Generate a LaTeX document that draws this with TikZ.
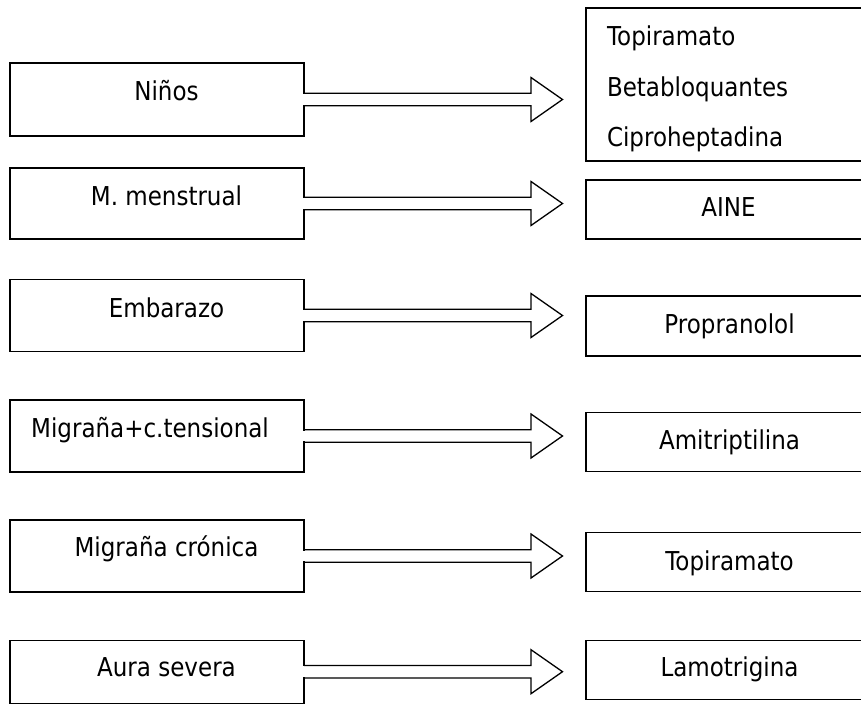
\documentclass[tikz,border=0pt]{standalone}
\usepackage{fontspec}
\setmainfont{DejaVu Sans}[FakeStretch=0.885]
\usetikzlibrary{calc}
\newcommand\myblockarrow[2]{%
  \fill[white] let \p1=(#1.east) in (\x1-1.2pt,\y1+5.4pt) rectangle (\x1+1.2pt,\y1-5.4pt);
  \draw[line join=miter] let \p1=(#1.east), \p2=(#2.west) in
    (\x1,\y1+6.3pt) -- (\x2-55pt,\y1+6.3pt) -- (\x2-55pt,\y1+22pt) -- (\x2-23.5pt,\y1)
    -- (\x2-55pt,\y1-22pt) -- (\x2-55pt,\y1-6.3pt) -- (\x1,\y1-6.3pt);
}
\begin{document}
\begin{tikzpicture}[x=1pt,y=-1pt, line width=1.3pt,
  lbox/.style={draw, minimum width=294pt, inner sep=0pt, outer sep=0pt},
  rbox/.style={draw, minimum width=287pt, inner sep=0pt, outer sep=0pt},
  txt/.style={anchor=base, inner sep=0pt, outer sep=0pt, font=\fontsize{26}{30}\selectfont},
  ltxt/.style={txt, anchor=base west}]
\useasboundingbox (0,0) rectangle (861,706);
\clip (0,0) rectangle (861,706);
% left boxes
\node[lbox, minimum height=73pt] (L1) at (157,99.5) {};
\node[lbox, minimum height=71pt] (L2) at (157,203.5) {};
\node[lbox, minimum height=72pt] (L3) at (157,315.5) {};
\node[lbox, minimum height=72pt] (L4) at (157,436) {};
\node[lbox, minimum height=72pt] (L5) at (157,556) {};
\node[lbox, minimum height=63pt] (L6) at (157,671.7) {};
% right boxes
\node[rbox, minimum height=153pt] (R1) at (729.5,84.5) {};
\node[rbox, minimum height=59pt] (R2) at (729.5,209.5) {};
\node[rbox, minimum height=60pt] (R3) at (729.5,326) {};
\node[rbox, minimum height=59pt] (R4) at (729.5,442.2) {};
\node[rbox, minimum height=58.6pt] (R5) at (729.5,562) {};
\node[rbox, minimum height=59pt] (R6) at (729.5,670.3) {};
% arrows
\myblockarrow{L1}{R1}
\myblockarrow{L2}{R2}
\myblockarrow{L3}{R3}
\myblockarrow{L4}{R4}
\myblockarrow{L5}{R5}
\myblockarrow{L6}{R6}
% left texts
\node[txt] (t1) at (166.5,100.7) {Niños};
\node[txt] (t2) at (166.5,205) {M. menstrual};
\node[txt] (t3) at (166.5,317) {Embarazo};
\node[txt] (t4) at (150,437) {Migraña+c.tensional};
\node[txt] (t5) at (166.5,556.7) {Migraña crónica};
\node[txt] (t6) at (166.5,676.7) {Aura severa};
% right texts
\node[ltxt] (r1a) at (607,45.7) {Topiramato};
\node[ltxt] (r1b) at (607,96.7) {Betabloquantes};
\node[ltxt] (r1c) at (607,146.7) {Ciproheptadina};
\node[txt] (r2) at (728.5,216.7) {AINE};
\node[txt] (r3) at (729.5,333) {Propranolol};
\node[txt] (r4) at (729.5,449) {Amitriptilina};
\node[txt] (r5) at (729.5,570) {Topiramato};
\node[txt] (r6) at (729.5,676.7) {Lamotrigina};
\end{tikzpicture}
\end{document}
